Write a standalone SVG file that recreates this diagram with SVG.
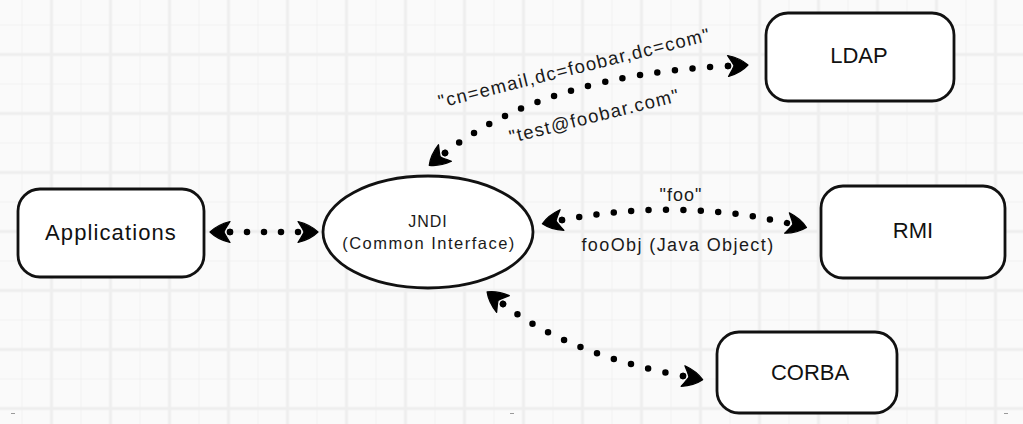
<svg xmlns="http://www.w3.org/2000/svg" width="1023" height="424" viewBox="0 0 1023 424">
<style>
.node{fill:#ffffff;stroke:#111;stroke-width:2.8}
.lbl{font-family:"Liberation Sans",Arial,sans-serif;font-size:22px;fill:#111;text-anchor:middle}
.hand{font-family:"Liberation Sans",Arial,sans-serif;fill:#1a1a1a;text-anchor:middle}
.dots{fill:none;stroke:#000;stroke-width:6.5;stroke-linecap:round;stroke-dasharray:0 1;marker-start:url(#ah);marker-end:url(#ah)}
</style>
<defs>
<pattern id="grid" patternUnits="userSpaceOnUse" x="21.5" y="24.5" width="59" height="59">
<rect x="0" y="0" width="59" height="59" fill="#fafafa"/>
<rect x="0" y="0" width="1" height="59" fill="#f1f1f1"/>
<rect x="0" y="0" width="59" height="1" fill="#f1f1f1"/>
<rect x="28.5" y="0" width="3" height="59" fill="#eeeeee"/>
<rect x="0" y="28.5" width="59" height="3" fill="#eeeeee"/>
</pattern>
<marker id="ah" markerUnits="userSpaceOnUse" viewBox="-5 -13 28 26" markerWidth="28" markerHeight="26" refX="0" refY="0" orient="auto-start-reverse" overflow="visible">
<path d="M20,0 C15,-5 6,-9 0,-10.5 C3,-5.5 5.5,-2 6,0 C5.5,2 3,5.5 0,10.5 C6,9 15,5 20,0 Z" fill="#000" stroke="#000" stroke-width="1.2" stroke-linejoin="round"/>
<circle cx="0" cy="0" r="3.2" fill="#000"/>
</marker>
</defs>
<rect x="0" y="0" width="1023" height="424" fill="url(#grid)"/>
<g fill="#9a9a9a">
<rect x="11" y="413" width="4" height="1"/>
<rect x="510" y="413" width="4" height="1"/>
<rect x="1004" y="413" width="4" height="1"/>
</g>

<g id="connectors">
<path class="dots" pathLength="4" d="M230,232 L298,232"/>
<path class="dots" pathLength="17" d="M445,153 Q545,75 728,66"/>
<path class="dots" pathLength="13" d="M562,220 Q678,198 787,223"/>
<path class="dots" pathLength="11" d="M503,304 Q570,355 683,376"/>
<text class="hand" font-size="18.5" letter-spacing="1.3" transform="translate(576,74) rotate(-14)">"cn=email,dc=foobar,dc=com"</text>
<text class="hand" font-size="18.5" letter-spacing="1.3" transform="translate(596,122) rotate(-14)">"test@foobar.com"</text>
<text class="hand" font-size="18" letter-spacing="1" x="681" y="201">"foo"</text>
<text class="hand" font-size="18" letter-spacing="1.4" x="678" y="251">fooObj (Java Object)</text>
</g>

<g id="applications">
<rect class="node" x="18" y="189" width="186" height="88" rx="22"/>
<text class="lbl" font-size="21" letter-spacing="1.1" x="111" y="240">Applications</text>
</g>

<g id="jndi">
<ellipse class="node" cx="428" cy="232" rx="105" ry="56"/>
<text class="hand" font-size="16" letter-spacing="1" x="428" y="227">JNDI</text>
<text class="hand" font-size="16.5" letter-spacing="1.5" x="429" y="249">(Common Interface)</text>
</g>

<g id="ldap">
<rect class="node" x="766" y="13" width="188" height="88" rx="22"/>
<text class="lbl" x="859" y="63">LDAP</text>
</g>

<g id="rmi">
<rect class="node" x="821" y="186" width="184" height="92" rx="22"/>
<text class="lbl" x="913" y="238">RMI</text>
</g>

<g id="corba">
<rect class="node" x="717" y="332" width="180" height="81" rx="22"/>
<text class="lbl" x="810" y="380">CORBA</text>
</g>
</svg>
